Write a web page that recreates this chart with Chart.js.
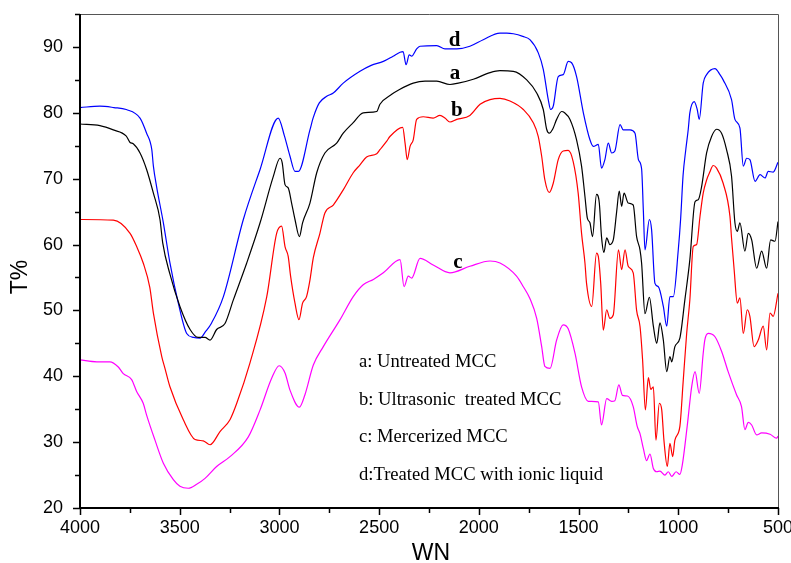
<!DOCTYPE html>
<html>
<head>
<meta charset="utf-8">
<script src="https://cdn.jsdelivr.net/npm/chart.js@4.4.1/dist/chart.umd.min.js"></script>
<style>
  html, body { margin: 0; padding: 0; background: #fff; }
</style>
</head>
<body>
<canvas id="myChart" width="791" height="563"></canvas>
<script>
// a: untreated MCC (black)
const wnA = [4000, 3900, 3833, 3769, 3749, 3733, 3699, 3666, 3632, 3599, 3585, 3549, 3499, 3448, 3407, 3373, 3348, 3315, 3273, 3231, 3164, 3097, 3031, 2997, 2986, 2972, 2956, 2939, 2922, 2900, 2884, 2847, 2813, 2772, 2713, 2680, 2630, 2580, 2512, 2496, 2437, 2400, 2329, 2270, 2211, 2145, 2103, 2028, 1944, 1894, 1827, 1760, 1710, 1677, 1660, 1647, 1630, 1610, 1585, 1570, 1543, 1510, 1485, 1468, 1456, 1443, 1430, 1410, 1396, 1385, 1373, 1359, 1343, 1326, 1309, 1296, 1284, 1272, 1251, 1226, 1209, 1192, 1184, 1167, 1145, 1125, 1108, 1092, 1075, 1058, 1042, 1033, 1017, 992, 967, 942, 916, 900, 883, 858, 833, 808, 783, 758, 733, 716, 704, 691, 666, 649, 632, 607, 582, 557, 537, 515, 500];
const tA = [78.3, 78.05, 77.4, 76.5, 75.5, 75.3, 73.9, 71.4, 67.8, 63.8, 60.2, 55.5, 50.6, 47.1, 45.9, 45.9, 45.5, 47.1, 48.0, 51.6, 57.2, 63.3, 70.3, 73.1, 72.4, 69.1, 68.6, 66.3, 63.8, 61.2, 63.3, 66.3, 70.9, 73.9, 75.4, 76.9, 78.5, 80.0, 80.2, 81.3, 82.8, 83.5, 84.5, 84.8, 84.8, 84.3, 84.5, 85.1, 86.1, 86.4, 86.3, 85.0, 83.0, 80.5, 77.5, 76.9, 77.5, 79.0, 80.2, 80.0, 79.0, 75.9, 71.9, 67.3, 64.0, 63.3, 61.2, 67.6, 66.3, 61.2, 58.8, 61.0, 60.0, 60.7, 65.0, 68.1, 65.8, 67.8, 66.3, 66.0, 61.2, 59.2, 57.2, 49.5, 52.0, 47.6, 45.0, 48.1, 45.5, 40.7, 43.0, 42.2, 44.5, 45.8, 51.6, 57.7, 66.5, 66.8, 68.8, 73.9, 76.4, 77.5, 76.9, 74.4, 70.4, 63.3, 62.0, 63.3, 59.0, 61.7, 60.7, 56.4, 59.0, 56.4, 60.7, 60.5, 63.5];

// b: ultrasonic treated MCC (red)
const wnB = [4000, 3833, 3749, 3716, 3683, 3650, 3632, 3590, 3574, 3549, 3482, 3423, 3382, 3348, 3298, 3248, 3214, 3148, 3064, 3014, 2989, 2972, 2956, 2944, 2922, 2902, 2884, 2864, 2847, 2830, 2797, 2772, 2730, 2680, 2630, 2596, 2563, 2512, 2496, 2462, 2446, 2382, 2370, 2359, 2345, 2329, 2312, 2279, 2229, 2195, 2170, 2145, 2111, 2045, 1994, 1944, 1894, 1844, 1777, 1727, 1702, 1685, 1669, 1647, 1627, 1602, 1577, 1552, 1527, 1502, 1485, 1468, 1460, 1434, 1410, 1401, 1389, 1376, 1359, 1343, 1326, 1300, 1284, 1267, 1251, 1226, 1209, 1192, 1179, 1165, 1150, 1138, 1125, 1112, 1095, 1083, 1072, 1055, 1042, 1028, 1017, 992, 976, 958, 942, 925, 908, 891, 875, 858, 842, 825, 808, 775, 741, 733, 720, 704, 691, 674, 654, 641, 620, 599, 574, 557, 540, 524, 500];
const tB = [63.8, 63.7, 61.7, 59.7, 57.2, 53.5, 49.6, 43.0, 41.2, 38.4, 33.4, 30.4, 30.2, 29.6, 31.6, 33.4, 35.9, 42.0, 52.0, 61.7, 62.8, 59.7, 58.2, 55.2, 51.1, 48.6, 51.1, 52.1, 54.6, 58.0, 61.7, 64.8, 66.0, 68.3, 70.9, 72.1, 73.3, 73.8, 74.4, 75.7, 76.4, 77.8, 75.4, 72.9, 74.9, 75.9, 79.0, 79.4, 79.2, 79.6, 79.2, 78.6, 79.0, 79.6, 81.3, 82.0, 82.2, 81.8, 80.5, 78.5, 76.4, 73.4, 69.8, 67.9, 69.3, 72.9, 74.2, 74.3, 72.6, 67.8, 61.7, 57.2, 54.1, 50.6, 58.7, 58.2, 54.1, 47.0, 50.1, 48.8, 49.3, 59.2, 56.2, 59.2, 56.7, 55.7, 50.0, 47.6, 42.5, 34.9, 39.8, 38.0, 38.4, 30.3, 35.9, 34.9, 30.3, 26.3, 29.8, 27.8, 30.3, 32.4, 39.0, 46.5, 51.6, 59.7, 60.0, 64.3, 67.8, 69.8, 71.0, 72.0, 71.6, 69.3, 64.3, 61.0, 56.2, 51.1, 51.9, 46.5, 50.1, 49.1, 44.5, 45.5, 47.6, 44.0, 49.6, 49.1, 52.6];

// c: mercerized MCC (magenta)
const wnC = [4000, 3916, 3850, 3808, 3783, 3741, 3716, 3683, 3666, 3624, 3582, 3532, 3499, 3457, 3415, 3373, 3315, 3248, 3156, 3097, 3039, 3001, 2972, 2947, 2900, 2872, 2830, 2780, 2696, 2630, 2580, 2529, 2479, 2395, 2375, 2354, 2337, 2295, 2229, 2145, 2045, 1944, 1894, 1811, 1777, 1744, 1710, 1685, 1669, 1643, 1610, 1577, 1552, 1518, 1485, 1451, 1401, 1385, 1359, 1334, 1318, 1298, 1280, 1255, 1226, 1206, 1192, 1175, 1159, 1142, 1125, 1108, 1092, 1067, 1050, 1033, 1011, 992, 980, 955, 933, 916, 895, 875, 867, 850, 816, 783, 750, 708, 683, 666, 649, 632, 607, 582, 540, 507, 500];
const tC = [42.5, 42.2, 42.2, 41.4, 40.4, 39.5, 37.7, 35.9, 34.1, 30.3, 26.8, 24.3, 23.3, 23.0, 23.6, 24.5, 26.3, 27.8, 30.8, 34.9, 39.7, 41.6, 40.5, 37.9, 35.3, 37.2, 41.7, 44.5, 48.6, 52.1, 53.9, 54.7, 55.7, 57.7, 53.6, 55.2, 54.9, 57.9, 56.9, 55.7, 56.7, 57.5, 57.2, 55.2, 53.6, 51.8, 48.8, 44.5, 41.5, 41.2, 45.5, 47.8, 47.2, 43.5, 38.4, 36.2, 36.1, 32.6, 36.6, 36.2, 36.3, 38.7, 37.1, 37.0, 35.4, 32.4, 31.3, 29.0, 27.2, 28.2, 26.0, 25.5, 25.6, 25.0, 25.5, 24.8, 25.5, 25.1, 26.5, 32.5, 38.4, 40.7, 37.4, 43.5, 45.5, 46.5, 46.0, 43.8, 40.7, 37.2, 35.4, 31.9, 33.0, 32.6, 31.1, 31.4, 31.2, 30.6, 30.9];

// d: MCC treated with ionic liquid (blue)
const wnD = [4000, 3900, 3830, 3768, 3699, 3666, 3640, 3632, 3616, 3582, 3549, 3507, 3465, 3430, 3398, 3370, 3340, 3281, 3181, 3097, 3006, 2975, 2947, 2922, 2905, 2847, 2830, 2800, 2763, 2730, 2680, 2596, 2540, 2479, 2430, 2395, 2380, 2365, 2349, 2337, 2312, 2295, 2211, 2170, 2111, 2045, 1978, 1894, 1860, 1827, 1780, 1744, 1702, 1677, 1652, 1640, 1627, 1602, 1577, 1552, 1535, 1510, 1476, 1443, 1426, 1401, 1385, 1368, 1351, 1334, 1318, 1292, 1276, 1242, 1217, 1200, 1184, 1175, 1167, 1145, 1134, 1117, 1100, 1075, 1058, 1042, 1025, 1000, 988, 976, 962, 950, 942, 920, 905, 895, 875, 858, 816, 791, 775, 733, 716, 691, 674, 657, 641, 615, 590, 565, 549, 524, 500];
const tD = [80.8, 81.0, 80.8, 80.5, 79.2, 76.9, 74.4, 71.9, 68.8, 63.3, 57.2, 51.1, 46.5, 45.9, 45.8, 46.8, 48.1, 52.1, 63.8, 71.4, 79.2, 76.5, 73.4, 71.1, 71.1, 77.4, 79.3, 81.5, 82.5, 83.0, 84.5, 86.3, 87.2, 87.8, 88.6, 89.2, 89.3, 87.3, 88.8, 88.6, 89.7, 90.1, 90.2, 89.7, 89.7, 90.1, 91.1, 92.1, 92.1, 92.0, 91.6, 91.1, 89.1, 86.6, 82.0, 80.5, 81.0, 85.5, 85.8, 87.8, 87.6, 85.5, 80.0, 75.9, 74.9, 75.2, 71.6, 72.9, 75.4, 73.9, 74.2, 78.2, 77.4, 77.4, 76.9, 72.9, 71.5, 65.0, 59.2, 63.8, 62.3, 54.1, 53.6, 50.6, 47.6, 52.1, 52.1, 59.2, 64.0, 70.5, 74.5, 77.5, 80.0, 81.7, 80.5, 79.0, 84.5, 85.8, 86.7, 85.8, 85.0, 82.0, 79.0, 77.7, 71.9, 73.1, 72.9, 69.6, 70.6, 70.1, 71.1, 71.0, 72.5];

const xTicks = [4000, 3500, 3000, 2500, 2000, 1500, 1000, 500];
const yTicks = [20, 30, 40, 50, 60, 70, 80, 90];

const legendLines = ["a: Untreated MCC", "b: Ultrasonic  treated MCC", "c: Mercerized MCC", "d:Treated MCC with ionic liquid"];
const curveLetters = ["d", "a", "b", "c"];

// where the letters and the legend sit, in axis units
const letterSpots = [[2122, 90.1], [2120, 85.2], [2110, 79.5], [2105, 56.5]];
const legendSpot = [2601, 41.4];
const legendStep = 5.72;

function toPoints(wn, t) {
  return wn.map((w, i) => ({ x: w, y: t[i] }));
}

const framePlugin = {
  id: "frame",
  afterDraw(chart) {
    const { ctx, chartArea: a, scales } = chart;
    const x = scales.x;
    const y = scales.y;
    ctx.save();

    // box
    ctx.strokeStyle = "#555";
    ctx.lineWidth = 1;
    ctx.beginPath();
    ctx.moveTo(a.left, a.top + 0.5);
    ctx.lineTo(a.right + 0.5, a.top + 0.5);
    ctx.lineTo(a.right + 0.5, a.bottom);
    ctx.stroke();

    ctx.strokeStyle = "#000";
    ctx.lineWidth = 2;
    ctx.beginPath();
    ctx.moveTo(a.left, a.top);
    ctx.lineTo(a.left, a.bottom);
    ctx.lineTo(a.right + 1, a.bottom);
    ctx.stroke();

    // ticks, long on labelled values
    ctx.lineWidth = 1.5;
    ctx.beginPath();
    x.ticks.forEach((t) => {
      const px = Math.round(x.getPixelForValue(t.value)) + 0.5;
      const len = xTicks.includes(t.value) ? 7 : 5;
      ctx.moveTo(px, a.bottom);
      ctx.lineTo(px, a.bottom + len);
    });
    y.ticks.forEach((t) => {
      const py = Math.round(y.getPixelForValue(t.value)) + 0.5;
      const len = yTicks.includes(t.value) ? 7 : 5;
      ctx.moveTo(a.left, py);
      ctx.lineTo(a.left - len, py);
    });
    ctx.stroke();

    // axis titles
    ctx.fillStyle = "#000";
    ctx.font = "23px 'Liberation Sans', Arial, sans-serif";
    ctx.textAlign = "center";
    ctx.textBaseline = "middle";
    ctx.fillText("WN", (a.left + a.right) / 2 + 2, 554);
    ctx.save();
    ctx.translate(21, 277);
    ctx.rotate(-Math.PI / 2);
    ctx.fillText("T%", 0, 0);
    ctx.restore();

    // curve letters
    ctx.font = "bold 21px 'Liberation Serif', 'Times New Roman', serif";
    ctx.textBaseline = "alphabetic";
    curveLetters.forEach((c, i) => {
      const s = letterSpots[i];
      ctx.fillText(c, x.getPixelForValue(s[0]), y.getPixelForValue(s[1]));
    });

    // legend text
    ctx.font = "18.6px 'Liberation Serif', 'Times New Roman', serif";
    ctx.textAlign = "left";
    legendLines.forEach((line, i) => {
      ctx.fillText(line, x.getPixelForValue(legendSpot[0]), y.getPixelForValue(legendSpot[1] - i * legendStep));
    });

    ctx.restore();
  },
};

const ctx = document.getElementById("myChart").getContext("2d");
const myChart = new Chart(ctx, {
  type: "line",
  data: {
    datasets: [
      { label: "c", data: toPoints(wnC, tC), borderColor: "#FF00FF" },
      { label: "b", data: toPoints(wnB, tB), borderColor: "#FF0000" },
      { label: "a", data: toPoints(wnA, tA), borderColor: "#000000" },
      { label: "d", data: toPoints(wnD, tD), borderColor: "#0000FF" },
    ],
  },
  options: {
    responsive: false,
    animation: false,
    devicePixelRatio: 1,
    layout: { padding: { top: 14, right: 13, left: 0, bottom: 0 } },
    elements: {
      point: { radius: 0 },
      line: { borderWidth: 1.2, cubicInterpolationMode: "monotone", fill: false },
    },
    plugins: {
      legend: { display: false },
      tooltip: { enabled: false },
    },
    scales: {
      x: {
        type: "linear",
        reverse: true,
        min: 500,
        max: 4000,
        grid: { display: false, drawTicks: false },
        border: { display: false },
        ticks: {
          stepSize: 250,
          autoSkip: false,
          maxRotation: 0,
          padding: 9,
          color: "#000",
          font: { family: "'Liberation Sans', Arial, sans-serif", size: 18 },
          callback: (v) => (xTicks.includes(v) ? String(v) : ""),
        },
        afterFit: (s) => {
          s.height = 55;
          s.paddingLeft = 0;
          s.paddingRight = 0;
        },
      },
      y: {
        type: "linear",
        min: 20,
        max: 95,
        grid: { display: false, drawTicks: false },
        border: { display: false },
        ticks: {
          stepSize: 5,
          autoSkip: false,
          padding: 17,
          color: "#000",
          font: { family: "'Liberation Sans', Arial, sans-serif", size: 18 },
          callback: (v) => (yTicks.includes(v) ? String(v) : ""),
        },
        afterFit: (s) => {
          s.width = 80;
          s.paddingTop = 0;
          s.paddingBottom = 0;
        },
      },
    },
  },
  plugins: [framePlugin],
});
</script>
</body>
</html>
